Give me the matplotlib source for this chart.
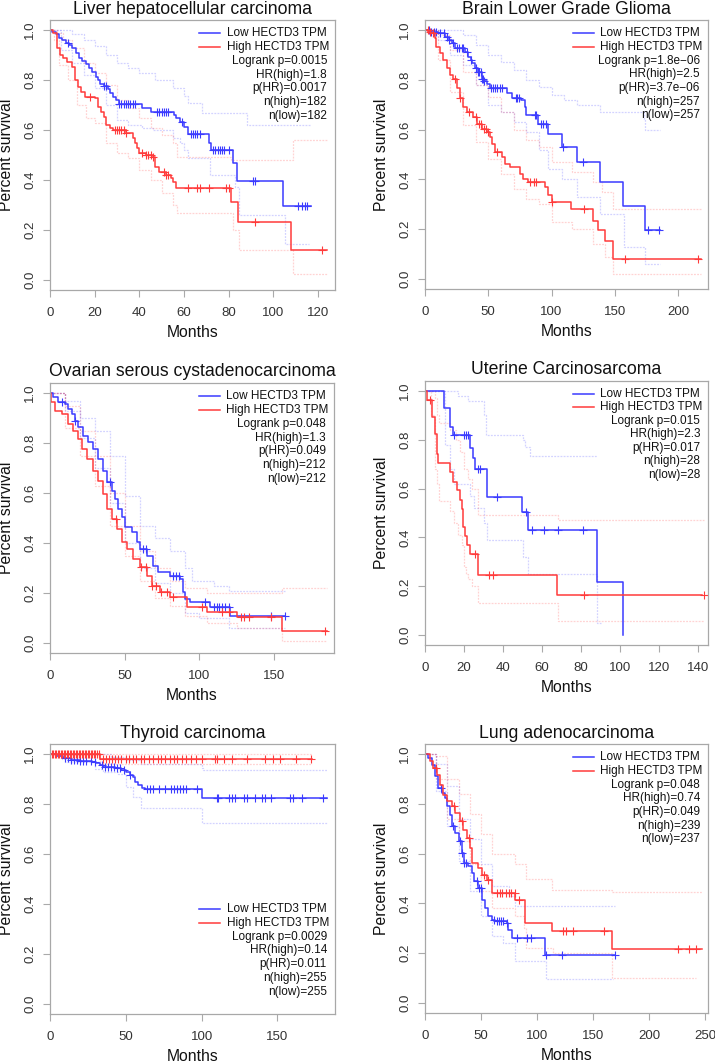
import numpy as np
import matplotlib.pyplot as plt

plt.rcParams['font.family'] = ['Liberation Sans', 'DejaVu Sans']

LOW_C = '#3b3bff'
HIGH_C = '#ff3b3b'

# ---------------- Liver hepatocellular carcinoma ----------------
liver_low = [(0, 1), (1, .993), (2.5, .985), (4, .97), (5.5, .96), (7, .95), (8.5, .94), (10, .927),
             (11.5, .91), (13, .89), (14.5, .877), (16, .863), (17.5, .85), (19, .833), (20.5, .813),
             (21.5, .8), (22.5, .783), (24, .776), (26, .763), (27, .75), (28, .733), (29.5, .72),
             (31, .703), (41, .69), (45, .673), (55.5, .66), (56.5, .647), (58, .633), (60, .613),
             (62, .585), (71.2, .55), (72, .52), (82, .468), (83.7, .395), (104.3, .295), (117, .295)]
liver_high = [(0, 1), (1.5, .987), (3, .927), (4.5, .9), (6, .887), (7.5, .873), (9.7, .853), (11, .8),
              (12.7, .773), (14, .753), (15.6, .733), (20, .727), (21.6, .693), (23, .673), (24, .653),
              (25, .62), (27, .607), (28, .6), (34, .587), (37, .567), (38, .547), (39, .527), (40, .507),
              (43, .5), (46, .493), (47, .453), (49, .433), (52, .42), (54, .407), (55, .393), (56.6, .367),
              (81.2, .313), (84.2, .233), (108, .12), (124, .12)]
liver_low_cens = [8, 24, 25, 31, 32, 33, 34, 35, 36, 37, 38, 48, 49, 50, 51, 52, 53, 59, 63, 64, 65,
                  66, 67, 73, 74, 75, 76, 77, 78, 80, 91, 92, 111, 113, 114, 115]
liver_high_cens = [18, 29, 30, 31, 32, 33, 34, 41, 43, 44, 45, 46, 51, 52, 53, 62, 66, 67, 71, 79, 80, 92, 122]
liver_low_up = [(0, 1), (5, 1.0), (10, .985), (15, .96), (20, .935), (25, .9), (30, .87), (35, .85),
                (40, .83), (47, .8), (55, .77), (60, .735), (62, .708), (68, .668), (88, .62), (117, .62)]
liver_low_lo = [(0, 1), (5, .92), (10, .87), (15, .82), (20, .77), (25, .7), (30, .64), (35, .62), (41, .61),
                (46, .6), (55, .57), (58, .55), (60, .52), (62, .49), (71.5, .42), (83, .372), (84.5, .26),
                (104.5, .26), (105, .145), (116, .145)]
liver_high_up = [(0, 1), (3, .99), (6, .96), (10, .93), (15, .87), (20, .83), (25, .78), (30, .72), (35, .69),
                 (40, .65), (45, .61), (50, .58), (55, .55), (57, .493), (81, .48), (108, .48), (109, .56),
                 (124, .56)]
liver_high_lo = [(0, 1), (2, .96), (4, .86), (8, .8), (12, .7), (16, .65), (20, .63), (25, .55), (30, .51),
                 (35, .49), (40, .44), (45, .4), (50, .35), (55, .3), (57, .27), (81, .27), (82, .2),
                 (84.5, .12), (108, .12), (109, .025), (124, .025)]
liver_stats = ['Logrank p=0.0015', 'HR(high)=1.8', 'p(HR)=0.0017', 'n(high)=182', 'n(low)=182']

# ---------------- Brain Lower Grade Glioma ----------------
brain_low = [(0, 1), (5, .993), (10.5, .987), (15.8, .973), (19, .96), (21, .946), (23.7, .926), (31.6, .913),
             (34, .893), (36, .88), (37, .866), (39.5, .846), (42, .832), (44.7, .805), (46.5, .795),
             (48.7, .785), (51, .765), (64.5, .745), (68.4, .725), (76, .718), (79, .691), (80, .658),
             (89.5, .624), (97.4, .584), (108, .53), (120, .47), (138, .389), (156.6, .295), (173.7, .195),
             (186, .195)]
brain_high = [(0, 1), (2.6, .993), (5, .987), (8, .966), (9, .933), (12, .906), (14.5, .879), (17, .846),
              (20, .819), (22, .805), (25, .765), (27.6, .725), (30, .691), (33, .671), (38, .651), (41, .624),
              (45, .604), (48.7, .591), (51, .571), (52.6, .544), (55, .51), (60.5, .49), (63, .463), (67, .45),
              (75, .423), (77.6, .403), (81.6, .389), (94.7, .369), (97.4, .336), (100, .309), (115.8, .282),
              (133, .235), (136.8, .195), (142, .154), (148.7, .08), (218, .08)]
brain_low_cens = [3, 5, 7, 9, 12, 15, 17, 19, 22, 25, 27, 29, 30, 33, 36, 40, 42, 43, 44, 45, 46, 47, 52, 54,
                  55, 57, 59, 61, 72, 73, 74, 87, 88, 92, 93, 96, 109, 125, 176, 185]
brain_high_cens = [2, 4, 6, 24, 28, 35, 40, 43, 44, 47, 48, 50, 57, 83, 86, 88, 100, 126, 158, 216]
brain_low_up = [(0, 1), (20, 1.0), (30, .98), (40, .94), (50, .9), (60, .87), (70, .84), (80, .8), (90, .77),
                (100, .74), (110, .72), (120, .7), (138, .67), (173, .64), (174, .6), (186, .6)]
brain_low_lo = [(0, 1), (10, .96), (20, .9), (30, .86), (40, .78), (50, .7), (60, .67), (70, .63), (80, .59),
                (90, .52), (97, .44), (108, .4), (120, .33), (138, .26), (157, .13), (174, .06), (186, .06)]
brain_high_up = [(0, 1), (10, .98), (20, .92), (30, .83), (40, .78), (50, .73), (60, .67), (70, .6), (80, .56),
                 (90, .53), (100, .47), (116, .43), (133, .39), (140, .35), (149, .28), (218, .28)]
brain_high_lo = [(0, 1), (10, .88), (20, .75), (30, .62), (40, .55), (50, .48), (60, .42), (70, .36), (80, .32),
                 (90, .3), (100, .23), (116, .2), (133, .14), (142, .09), (149, .02), (218, .02)]
brain_stats = ['Logrank p=1.8e\u221206', 'HR(high)=2.5', 'p(HR)=3.7e\u221206', 'n(high)=257', 'n(low)=257']

# ---------------- Ovarian serous cystadenocarcinoma ----------------
ovarian_low = [(0, 1), (2.2, .984), (5.6, .964), (10, .957), (12.3, .937), (14.5, .917), (17, .89), (19, .864),
               (22.3, .83), (25.7, .804), (29, .777), (32.4, .737), (35.7, .69), (38, .644), (41.3, .61),
               (43.5, .577), (45.8, .537), (48, .504), (50, .464), (54.7, .444), (58, .404), (60, .377),
               (64.7, .35), (69, .31), (72.5, .284), (80, .27), (87, .257), (89, .204), (90.4, .177),
               (93.75, .164), (107, .144), (120.5, .11), (157, .11)]
ovarian_high = [(0, 1), (1, .964), (3.3, .93), (7.8, .917), (12.3, .877), (15.6, .85), (19, .817), (21.2, .777),
                (24.5, .737), (29, .69), (32.4, .65), (35.7, .597), (38, .537), (41.3, .497), (44.6, .457),
                (48, .404), (51.3, .377), (55.8, .337), (60, .304), (64.7, .27), (68, .23), (73.7, .204),
                (80, .184), (91.5, .144), (105, .124), (125, .104), (155, .05), (185, .05)]
ovarian_low_cens = [8, 17, 40, 62, 64, 82, 84, 86, 104, 110, 112, 113, 115, 117, 120, 148, 157]
ovarian_high_cens = [44, 61, 64, 68, 71, 74, 78, 82, 102, 115, 120, 128, 130, 133, 148, 184]
ovarian_low_up = [(0, 1), (10, .97), (20, .9), (30, .85), (40, .75), (50, .59), (60, .47), (70, .42), (80, .37),
                  (90, .3), (95, .25), (110, .23), (120, .21), (157, .21)]
ovarian_low_lo = [(0, 1), (10, .93), (20, .82), (30, .7), (40, .56), (50, .4), (60, .3), (70, .24), (80, .2),
                  (90, .12), (100, .1), (120, .06), (157, .06)]
ovarian_high_up = [(0, 1), (10, .95), (20, .85), (30, .75), (40, .6), (50, .47), (60, .37), (70, .3), (80, .25),
                   (90, .22), (105, .2), (155, .22), (185, .22)]
ovarian_high_lo = [(0, 1), (10, .86), (20, .75), (30, .63), (40, .47), (50, .35), (60, .25), (70, .18), (80, .15),
                   (90, .11), (105, .08), (125, .06), (155, .01), (185, .01)]
ovarian_stats = ['Logrank p=0.048', 'HR(high)=1.3', 'p(HR)=0.049', 'n(high)=212', 'n(low)=212']

# ---------------- Uterine Carcinosarcoma ----------------
uterine_low = [(0, 1), (9.9, .928), (12.8, .853), (14.5, .819), (23, .764), (24.8, .723), (25.6, .682),
               (31.6, .566), (49.5, .505), (53, .43), (88, .218), (101.6, 0)]
uterine_high = [(0, 1), (0.85, .964), (3.4, .893), (5.1, .825), (6, .743), (6.8, .703), (12.8, .668),
                (14.5, .628), (16.2, .593), (17.9, .553), (18.8, .518), (19.6, .443), (20.5, .405),
                (21.3, .368), (23, .331), (27.3, .246), (67.4, .166), (141.7, .166)]
uterine_low_cens = [15, 20, 21, 22, 27, 28, 37, 52, 55, 61, 68, 81]
uterine_high_cens = [2.5, 25.5, 33, 35, 81.5, 143]
uterine_low_up = [(0, 1), (16, 1), (17, .98), (22, .96), (30, .9), (31, .82), (50, .8), (51, .77), (54, .735),
                  (88, .735)]
uterine_low_lo = [(0, 1), (10, .78), (13, .68), (15, .62), (23, .57), (25, .52), (30, .46), (32, .39), (50, .32),
                  (53, .25), (88, .05), (90, .05)]
uterine_high_up = [(0, 1), (3, 1), (5, .97), (6, .9), (7, .87), (13, .84), (16, .8), (18, .75), (20, .68),
                   (22, .64), (24, .6), (27, .49), (67, .49), (68, .47), (143, .47)]
uterine_high_lo = [(0, 1), (3, .9), (5, .68), (6, .62), (7, .55), (13, .51), (15, .46), (17, .41), (19, .37),
                   (20, .28), (21, .25), (22, .23), (24, .2), (27, .13), (67, .13), (68, .06), (143, .06)]
uterine_stats = ['Logrank p=0.015', 'HR(high)=2.3', 'p(HR)=0.017', 'n(high)=28', 'n(low)=28']

# ---------------- Thyroid carcinoma ----------------
thyroid_low = [(0, 1), (4, .993), (8.4, .984), (14, .977), (19.5, .973), (28, .97), (30.5, .964), (32.7, .957),
               (35, .95), (42.7, .944), (47, .937), (50.4, .93), (52.7, .917), (55, .91), (56, .89), (58, .877),
               (60.4, .864), (62.6, .86), (100, .824), (183, .824)]
thyroid_high = [(0, 1), (32.7, .98), (173, .98)]
thyroid_low_cens = [10, 12, 14, 16, 18, 20, 22, 24, 27, 30, 34, 36, 38, 40, 42, 44, 46, 49, 53, 64, 66, 68,
                    72, 76, 80, 82, 84, 86, 88, 90, 97, 110, 111, 118, 120, 122, 128, 130, 135, 140, 142,
                    146, 158, 160, 166, 180]
thyroid_high_cens = [1, 2, 3, 4, 5, 6, 7, 8, 9, 10, 11, 12, 13, 14, 15, 16, 17, 18, 19, 20, 21, 22, 23, 24,
                     25, 26, 27, 28, 29, 30, 31, 32, 35, 37, 39, 41, 43, 45, 47, 50, 52, 55, 57, 60, 62, 65, 68,
                     71, 73, 76, 79, 82, 84, 87, 90, 93, 96, 100, 109, 110, 115, 120, 130, 142, 147, 152, 162, 172]
thyroid_low_up = [(0, 1), (35, 1), (40, .99), (50, .975), (60, .96), (100, .945), (101, .935), (183, .935)]
thyroid_low_lo = [(0, 1), (8, .98), (10, .97), (30, .94), (35, .93), (45, .92), (50, .87), (55, .83),
                  (60, .785), (100, .725), (183, .725)]
thyroid_high_up = [(0, 1), (173, 1)]
thyroid_high_lo = [(0, 1), (33, .96), (173, .96)]
thyroid_stats = ['Logrank p=0.0029', 'HR(high)=0.14', 'p(HR)=0.011', 'n(high)=255', 'n(low)=255']

# ---------------- Lung adenocarcinoma ----------------
lung_low = [(0, 1), (3, .984), (6, .957), (9, .91), (12, .863), (15, .843), (17.9, .823), (20, .79),
            (22.3, .756), (24.4, .71), (26.8, .683), (30, .65), (32.7, .602), (35, .562), (38.7, .549),
            (41.7, .522), (44, .489), (47.6, .462), (50.6, .415), (53.6, .381), (56.5, .348), (59.5, .335),
            (62.5, .328), (73, .321), (74.4, .294), (77.4, .261), (107, .194), (169.6, .194)]
lung_high = [(0, 1), (4.5, .97), (7.4, .944), (10.4, .917), (13.4, .877), (16.4, .837), (19.3, .81),
             (23.8, .79), (26.8, .763), (31.2, .73), (34.2, .696), (37.2, .663), (40.2, .622), (41.7, .562),
             (47.6, .542), (50.6, .515), (55, .495), (59.5, .442), (80.4, .415), (89.3, .321), (113.7, .288),
             (166.7, .217), (247, .217)]
lung_low_cens = [14, 25, 31, 33, 35, 37, 46, 48, 50, 62, 64, 66, 68, 70, 73, 82, 91, 95, 108, 122, 170]
lung_high_cens = [10, 26, 33, 39, 53, 56, 64, 67, 69, 72, 75, 77, 80, 84, 123, 126, 132, 160, 226, 236, 242]
lung_low_up = [(0, 1), (10, .96), (20, .87), (30, .74), (40, .66), (50, .56), (60, .47), (75, .43), (80, .39),
               (170, .39)]
lung_low_lo = [(0, 1), (10, .85), (20, .71), (30, .57), (40, .45), (50, .35), (60, .27), (70, .24), (80, .17),
               (108, .096), (168, .096)]
lung_high_up = [(0, 1), (10, .99), (20, .9), (30, .84), (40, .76), (50, .68), (60, .6), (80, .56), (90, .5),
                (113, .455), (167, .445), (247, .445)]
lung_high_lo = [(0, 1), (10, .9), (20, .74), (30, .65), (40, .56), (50, .45), (60, .38), (80, .35), (88, .3),
                (90, .22), (114, .2), (167, .1), (242, .1)]
lung_stats = ['Logrank p=0.048', 'HR(high)=0.74', 'p(HR)=0.049', 'n(high)=239', 'n(low)=237']

# title, low, high, low censors, high censors, CI, stats, xmax, xticks, legend top row, axes box (px)
panels = [
    ('Liver hepatocellular carcinoma', liver_low, liver_high, liver_low_cens, liver_high_cens,
     (liver_low_up, liver_low_lo, liver_high_up, liver_high_lo), liver_stats,
     127.6, [0, 20, 40, 60, 80, 100, 120], 0.951, (50, 20, 335, 290)),
    ('Brain Lower Grade Glioma', brain_low, brain_high, brain_low_cens, brain_high_cens,
     (brain_low_up, brain_low_lo, brain_high_up, brain_high_lo), brain_stats,
     223.7, [0, 50, 100, 150, 200], 0.951, (425, 20, 708, 289)),
    ('Ovarian serous cystadenocarcinoma', ovarian_low, ovarian_high, ovarian_low_cens, ovarian_high_cens,
     (ovarian_low_up, ovarian_low_lo, ovarian_high_up, ovarian_high_lo), ovarian_stats,
     190, [0, 50, 100, 150], 0.951, (50, 383, 334, 653)),
    ('Uterine Carcinosarcoma', uterine_low, uterine_high, uterine_low_cens, uterine_high_cens,
     (uterine_low_up, uterine_low_lo, uterine_high_up, uterine_high_lo), uterine_stats,
     145, [0, 20, 40, 60, 80, 100, 120, 140], 0.951, (425, 381, 708, 645)),
    ('Thyroid carcinoma', thyroid_low, thyroid_high, thyroid_low_cens, thyroid_high_cens,
     (thyroid_low_up, thyroid_low_lo, thyroid_high_up, thyroid_high_lo), thyroid_stats,
     188, [0, 50, 100, 150], 0.389, (50, 744, 335, 1014)),
    ('Lung adenocarcinoma', lung_low, lung_high, lung_low_cens, lung_high_cens,
     (lung_low_up, lung_low_lo, lung_high_up, lung_high_lo), lung_stats,
     252.7, [0, 50, 100, 150, 200, 250], 0.951, (425, 744, 708, 1013)),
]

W, H = 715, 1062
fig = plt.figure(figsize=(W / 100, H / 100), dpi=100)


def step_at(curve, times):
    t = np.array([p[0] for p in curve])
    s = np.array([p[1] for p in curve])
    idx = np.searchsorted(t, times, side='right') - 1
    return s[np.clip(idx, 0, len(s) - 1)]


for (title, low, high, lcens, hcens, ci, stats, xmax, xticks, row0, box) in panels:
    x0, y0, x1, y1 = box
    ax = fig.add_axes([x0 / W, 1 - y1 / H, (x1 - x0) / W, (y1 - y0) / H])

    # confidence bands
    for band, col in zip(ci, [LOW_C, LOW_C, HIGH_C, HIGH_C]):
        ax.step([p[0] for p in band], [p[1] for p in band], where='post', color=col,
                alpha=0.22, lw=0.9, ls=(0, (1.5, 1)))

    for curve, cens, col in [(low, lcens, LOW_C), (high, hcens, HIGH_C)]:
        ax.step([p[0] for p in curve], [p[1] for p in curve], where='post', color=col, lw=1.1)
        ax.plot(cens, step_at(curve, np.array(cens, dtype=float)), ls='none', marker='+',
                ms=6, mew=0.8, color=col)

    ax.set_xlim(0, xmax)
    ax.set_ylim(-0.04, 1.04)
    ax.set_xticks(xticks)
    ax.set_yticks([0, 0.2, 0.4, 0.6, 0.8, 1.0])
    ax.set_yticklabels(['0.0', '0.2', '0.4', '0.6', '0.8', '1.0'], rotation=90, va='center')
    ax.tick_params(colors='#aaaaaa', labelcolor='#333333', labelsize=9.5, length=5, width=0.8)
    ax.tick_params(axis='y', pad=5)
    ax.tick_params(axis='x', pad=7)
    for sp in ax.spines.values():
        sp.set_color('#a8a8a8')
        sp.set_linewidth(0.9)

    ax.set_xlabel('Months', fontsize=11.3, color='#111111')
    ax.set_ylabel('Percent survival', fontsize=11.3, color='#111111')
    ax.xaxis.set_label_coords(0.5, -35 / (y1 - y0))
    ax.yaxis.set_label_coords(-36 / (x1 - x0), 0.5)
    ax.text(0.5, 1 + 11 / (y1 - y0), title, transform=ax.transAxes, ha='center', va='center',
            fontsize=12.7, color='#111111')

    # legend block
    dy = 0.051
    for i, (lab, col) in enumerate([('Low HECTD3 TPM', LOW_C), ('High HECTD3 TPM', HIGH_C)]):
        yy = row0 - i * dy
        ax.plot([0.524, 0.598], [yy, yy], transform=ax.transAxes, color=col, lw=1.1)
        ax.text(0.62, yy, lab, transform=ax.transAxes, ha='left', va='center', fontsize=8.5,
                color='#111111')
    for j, s in enumerate(stats):
        ax.text(0.972, row0 - (j + 2) * dy, s, transform=ax.transAxes, ha='right', va='center',
                fontsize=8.5, color='#111111')

fig.savefig('out.png', dpi=100)
